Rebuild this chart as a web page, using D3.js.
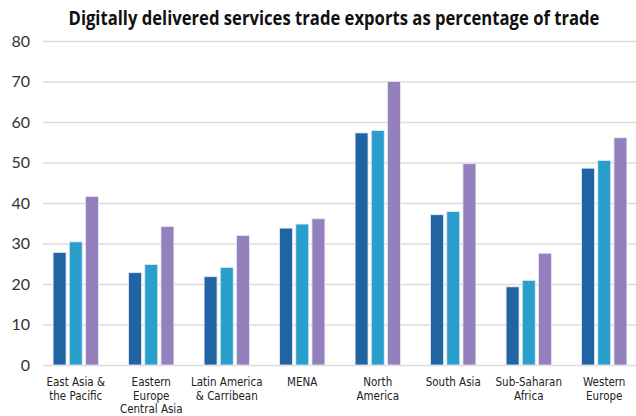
<!DOCTYPE html>
<html lang="en">
<head>
  <meta charset="UTF-8">
  <title>Digitally delivered services trade exports</title>
  <script src="https://cdn.jsdelivr.net/npm/d3@7"></script>
  <style>
    body { margin: 0; background: #fff; }
    svg { display: block; }
  </style>
</head>
<body>
  <svg width="636" height="416"></svg>
  <script>
    // regions along the x axis (each line of a label is one entry)
    var regions = ["East Asia & the Pacific", "Eastern Europe Central Asia", "Latin America & Carribean",
      "MENA", "North America", "South Asia", "Sub-Saharan Africa", "Western Europe"];
    var regionLines = [
      ["East Asia &", "the Pacific"],
      ["Eastern", "Europe", "Central Asia"],
      ["Latin America", "& Carribean"],
      ["MENA"],
      ["North", "America"],
      ["South Asia"],
      ["Sub-Saharan", "Africa"],
      ["Western", "Europe"]
    ];
    // three series per region
    var seriesA = [27.8, 22.8, 21.8, 33.8, 57.3, 37.1, 19.3, 48.6];
    var seriesB = [30.4, 24.8, 24.1, 34.8, 57.9, 37.9, 20.9, 50.5];
    var seriesC = [41.6, 34.2, 32.0, 36.1, 70.0, 49.7, 27.6, 56.1];
    var yTicks = [0, 10, 20, 30, 40, 50, 60, 70, 80];

    var seriesKeys = ["a", "b", "c"];
    var colors = { a: "#2164a3", b: "#2a9fce", c: "#9380bd" };

    var svg = d3.select("svg");

    var x0 = d3.scaleBand().domain(regions).range([38, 642]).paddingInner(0.4).paddingOuter(0.2);
    var x1 = d3.scaleBand().domain(seriesKeys).range([0, x0.bandwidth()]).paddingInner(0.2);
    var y = d3.scaleLinear().domain([0, 80]).range([365, 41]);

    // title - keep glyph height, squeeze horizontally to the reference width
    var titleG = svg.append("g");
    var title = titleG.append("text")
      .attr("x", 0)
      .attr("y", 0)
      .attr("text-anchor", "middle")
      .style("font-family", "'Open Sans', 'DejaVu Sans'")
      .style("font-weight", "bold")
      .style("font-size", "19px")
      .style("fill", "#111")
      .text("Digitally delivered services trade exports as percentage of trade");
    var tw = title.node().getComputedTextLength();
    var sx = Math.min(1, 531 / tw);
    titleG.attr("transform", "translate(334,25) scale(" + sx.toFixed(3) + ",1)");

    // gridlines + y labels
    var yAxis = d3.axisLeft(y).tickValues(yTicks).tickSize(-(636 - 43)).tickPadding(13);
    var gy = svg.append("g")
      .attr("transform", "translate(43,0)")
      .call(yAxis);
    gy.select(".domain").remove();
    gy.selectAll(".tick line").attr("stroke", "#dcdcdc").attr("stroke-width", 1.5);
    gy.selectAll(".tick text")
      .style("font-family", "Lato, 'Open Sans', sans-serif")
      .style("font-size", "16px")
      .style("fill", "#333");

    // build rows
    var rows = regions.map(function(r, i) {
      return { region: r, a: seriesA[i], b: seriesB[i], c: seriesC[i] };
    });

    var groups = svg.selectAll(".group")
      .data(rows)
      .enter().append("g")
      .attr("class", "group")
      .attr("transform", function(d) { return "translate(" + x0(d.region) + ",0)"; });

    groups.selectAll("rect")
      .data(function(d) { return seriesKeys.map(function(k) { return { key: k, value: d[k] }; }); })
      .enter().append("rect")
      .attr("x", function(d) { return x1(d.key); })
      .attr("width", x1.bandwidth())
      .attr("y", function(d) { return y(d.value); })
      .attr("height", function(d) { return y(0) - y(d.value); })
      .attr("fill", function(d) { return colors[d.key]; })
      .attr("stroke", "#e8eaf2")
      .attr("stroke-width", 0.8);

    // category labels
    var labels = svg.selectAll(".cat")
      .data(regions)
      .enter().append("text")
      .attr("class", "cat")
      .attr("x", function(d) { return x0(d) + x0.bandwidth() / 2; })
      .attr("y", 386)
      .attr("text-anchor", "middle")
      .style("font-family", "'Liberation Sans Narrow', 'DejaVu Sans Condensed', sans-serif")
      .style("font-size", "11.5px")
      .style("fill", "#222");

    labels.each(function(d, i) {
      var t = d3.select(this);
      regionLines[i].forEach(function(line, j) {
        t.append("tspan")
          .attr("x", x0(d) + x0.bandwidth() / 2)
          .attr("dy", j === 0 ? 0 : 13.5)
          .text(line);
      });
    });
  </script>
</body>
</html>
